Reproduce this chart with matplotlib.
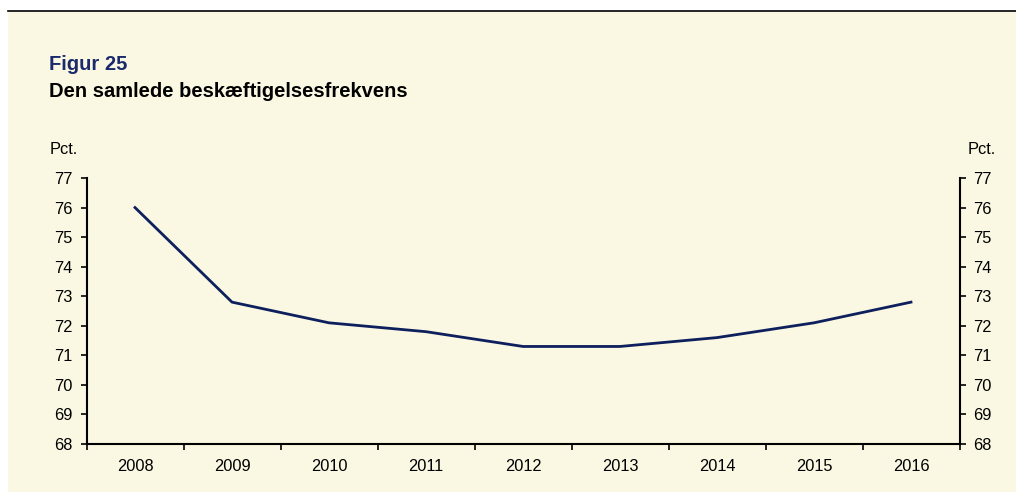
import matplotlib.pyplot as plt
from matplotlib.patches import Rectangle
from matplotlib.lines import Line2D

plt.rcParams['font.family'] = ['Liberation Sans', 'DejaVu Sans']

years = ["2008", "2009", "2010", "2011", "2012", "2013", "2014", "2015", "2016"]
rate = [76.0, 72.8, 72.1, 71.8, 71.3, 71.3, 71.6, 72.1, 72.8]
yticks = [68, 69, 70, 71, 72, 73, 74, 75, 76, 77]

W, H = 1016, 492
bg = "#FAF8E2"
navy = "#0E1F5E"
fs = 11.8

fig = plt.figure(figsize=(W / 100, H / 100), dpi=100)
fig.patch.set_facecolor("white")

# cream panel and top rule
fig.patches.append(Rectangle((8 / W, 0), 1 - 8 / W, 1 - 12 / H,
                             transform=fig.transFigure, facecolor=bg,
                             edgecolor="none", zorder=-10))
fig.lines.append(Line2D([8 / W, 1], [1 - 11 / H, 1 - 11 / H],
                        transform=fig.transFigure, color="black", lw=1.2))

ax = fig.add_axes([86.5 / W, 48 / H, 873 / W, 266 / H])
ax.set_facecolor("none")
ax.set_zorder(2)

x = list(range(len(years)))
ax.plot(x, rate, color=navy, lw=2.0)

ax.set_xlim(-0.5, len(years) - 0.5)
ax.set_ylim(68, 77)
ax.set_yticks(yticks)
ax.set_yticklabels([str(v) for v in yticks])

# year labels centred, tick marks at the category boundaries
ax.set_xticks([i - 0.5 for i in range(len(years) + 1)])
ax.set_xticklabels([])
ax.set_xticks(x, minor=True)
ax.set_xticklabels(years, minor=True)
ax.tick_params(axis="x", which="minor", length=0, pad=11, labelsize=fs)
ax.tick_params(axis="x", which="major", direction="out", length=4, width=1.2)
ax.tick_params(axis="y", direction="out", length=4, width=1.2, labelsize=fs, pad=6)

for s in ["top", "right"]:
    ax.spines[s].set_visible(False)
ax.spines["left"].set_linewidth(1.5)
ax.spines["bottom"].set_linewidth(1.5)

ax2 = ax.twinx()
ax2.set_zorder(3)
ax2.set_facecolor("none")
ax2.set_ylim(68, 77)
ax2.set_yticks(yticks)
ax2.set_yticklabels([str(v) for v in yticks])
ax2.tick_params(axis="y", direction="out", length=4, width=1.2, labelsize=fs, pad=6)
for s in ["top", "left", "bottom"]:
    ax2.spines[s].set_visible(False)
ax2.spines["right"].set_linewidth(1.5)

fig.text(49 / W, 1 - 70 / H, "Figur 25", color="#1B2A6B", fontsize=14.5,
         fontweight="bold", va="baseline")
fig.text(49 / W, 1 - 97 / H, "Den samlede beskæftigelsesfrekvens", color="black",
         fontsize=14.5, fontweight="bold", va="baseline")
fig.text(50 / W, 1 - 149 / H, "Pct.", fontsize=fs, va="center", ha="left")
fig.text(996 / W, 1 - 149 / H, "Pct.", fontsize=fs, va="center", ha="right")

fig.savefig("out.png", dpi=100, facecolor=fig.get_facecolor())
